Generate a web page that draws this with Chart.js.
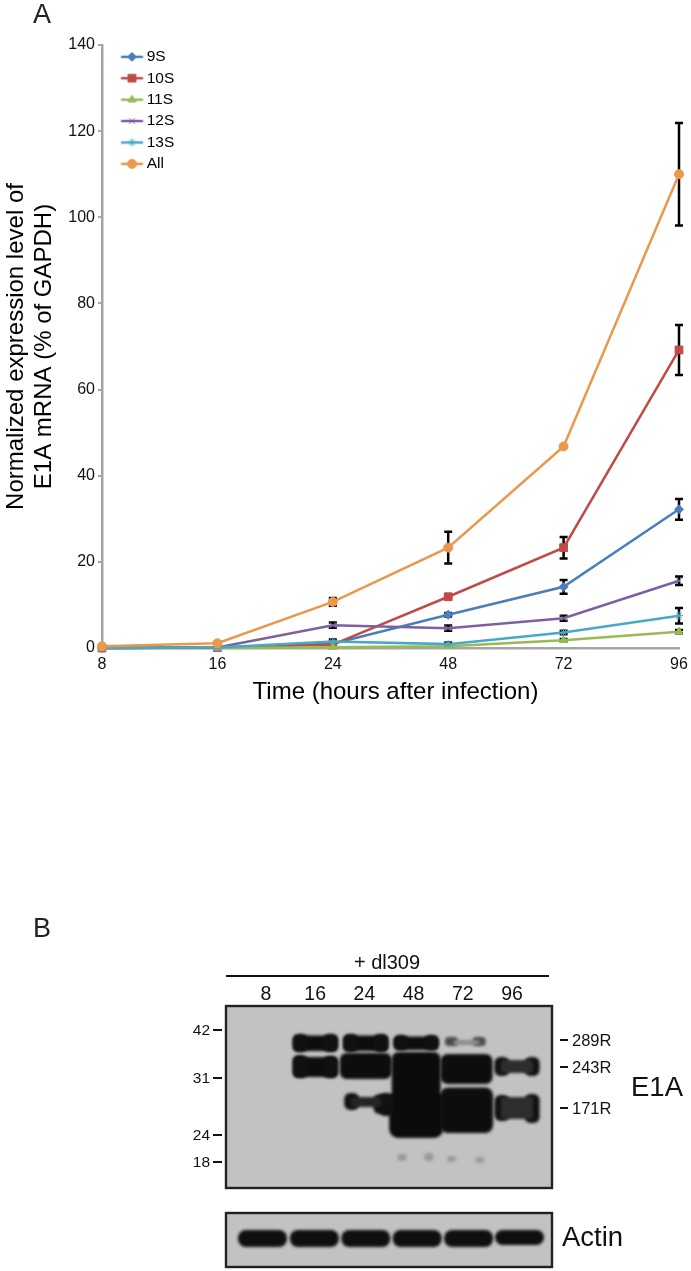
<!DOCTYPE html>
<html><head><meta charset="utf-8">
<style>html,body{margin:0;padding:0;background:#fff;width:691px;height:1271px;overflow:hidden}
canvas{position:absolute;left:0;display:block}</style>
<script src="https://cdn.jsdelivr.net/npm/chart.js@4/dist/chart.umd.js"></script>
</head><body>
<canvas id="lineChart" width="691" height="720" style="top:0"></canvas>
<canvas id="blotChart" width="691" height="361" style="top:910px"></canvas>
<script>
const hours = ['8','16','24','48','72','96'];
const yTicks = [0,20,40,60,80,100,120,140];
const s9  = [0,0.1,1.0,7.7,14.2,32.2];
const s10 = [0,0.1,0.8,11.9,23.3,69.2];
const s11 = [0,0,0.2,0.4,1.8,3.8];
const s12 = [0,0.1,5.3,4.6,6.9,15.6];
const s13 = [0,0.1,1.5,0.9,3.6,7.5];
const sAll= [0.4,1.1,10.7,23.3,46.8,110];
const e9  = [0,0,0.4,0.4,1.6,2.4];
const e10 = [0,0,0.2,0.3,2.5,5.8];
const e11 = [0,0,0,0.2,0.3,0.4];
const e12 = [0,0,0.6,0.6,0.6,1.0];
const e13 = [0,0,0.5,0.4,0.4,1.8];
const eAll= [0.2,0.2,0.9,3.7,0,11.9];
const names = ['9S','10S','11S','12S','13S','All'];
const seriesValues = [s9,s10,s11,s12,s13,sAll];
const seriesErrors = [e9,e10,e11,e12,e13,eAll];
const colors = ['#4a7ebb','#be4b48','#98b954','#7d60a0','#46aac5','#ea984c'];
const markers = ['rectRot','rect','triangle','crossRot','star','circle'];
const radii = [4.5,5.5,4.5,4,4,4.5];
const FONT = '"Liberation Sans", Arial, sans-serif';

function legendIcon(i){
  const c=document.createElement('canvas'); c.width=70; c.height=14;
  const g=c.getContext('2d');
  g.strokeStyle=colors[i]; g.lineWidth=2.5;
  g.beginPath(); g.moveTo(32.6,7); g.lineTo(54.6,7); g.stroke();
  g.fillStyle=colors[i]; g.lineWidth=1;
  Chart.helpers.drawPoint(g,{pointStyle:markers[i],radius:radii[i],rotation:0,borderWidth:1},43.6,7);
  return c;
}
const errorBars = {
  id:'errorBars',
  beforeDatasetsDraw(chart){
    const {ctx,scales:{x,y}}=chart;
    ctx.save(); ctx.strokeStyle='#000'; ctx.lineWidth=2.5;
    seriesErrors.forEach((errs,s)=>errs.forEach((err,i)=>{
      if(!err) return;
      const px=x.getPixelForTick(i), hi=y.getPixelForValue(seriesValues[s][i]+err),
            lo=y.getPixelForValue(seriesValues[s][i]-err);
      ctx.beginPath();
      ctx.moveTo(px,hi);ctx.lineTo(px,lo);
      ctx.moveTo(px-4,hi);ctx.lineTo(px+4,hi);
      ctx.moveTo(px-4,lo);ctx.lineTo(px+4,lo);
      ctx.stroke();
    }));
    ctx.restore();
  }
};
const panelLetterA = {
  id:'panelLetterA',
  afterDraw(chart){
    const c=chart.ctx; c.save(); c.fillStyle='#222'; c.font='27px '+FONT;
    c.textBaseline='middle'; c.fillText('A',33,16); c.restore();
  }
};
new Chart(document.getElementById('lineChart'),{
  type:'line',
  data:{labels:hours,datasets:names.map((n,i)=>({
    label:n,data:seriesValues[i],borderColor:colors[i],backgroundColor:colors[i],
    borderWidth:2.5,pointStyle:markers[i],pointRadius:radii[i],pointBorderWidth:1,
    pointBorderColor:colors[i],pointBackgroundColor:colors[i],tension:0,clip:false,order:6-i
  }))},
  options:{
    responsive:false,animation:false,
    layout:{padding:{left:0,right:12,top:45,bottom:0}},
    plugins:{
      tooltip:{enabled:false},
      legend:{
        position:'chartArea',align:'start',
        title:{display:true,text:' ',font:{size:1},padding:{top:42,bottom:0}},
        labels:{
          usePointStyle:true,pointStyleWidth:31,padding:5.9,color:'#000',
          font:{family:FONT,size:15.5},
          generateLabels:(chart)=>names.map((n,i)=>({
            text:n,pointStyle:legendIcon(i),datasetIndex:i,hidden:false,
            fontColor:'#000',lineWidth:0,strokeStyle:colors[i],fillStyle:colors[i]
          }))
        }
      }
    },
    scales:{
      x:{
        offset:false,
        afterFit(s){
          s.height=72; s.paddingRight=0; s.paddingLeft=0;
          if(!s._shifted){ s._shifted=true; const draw=s.drawTitle;
            s.drawTitle=function(){const c=this.ctx;c.save();c.translate(5,0);draw.call(this);c.restore();}; }
        },
        border:{color:'#a6a6a6',width:2.5},
        grid:{display:false,drawTicks:false},
        ticks:{color:'#111',padding:7,maxRotation:0,autoSkip:false,font:{family:FONT,size:16}},
        title:{display:true,text:'Time (hours after infection)',color:'#000',
          font:{family:FONT,size:24,lineHeight:1.15},padding:{top:0,bottom:14}}
      },
      y:{
        min:0,max:140,
        afterFit(s){s.width=102},
        afterBuildTicks(s){s.ticks=yTicks.map(v=>({value:v}))},
        border:{color:'#a6a6a6',width:2.5},
        grid:{drawOnChartArea:false,color:'#a6a6a6',lineWidth:2,tickLength:4},
        ticks:{color:'#111',padding:3,font:{family:FONT,size:16}},
        title:{display:true,text:['Normalized expression level of','E1A mRNA (% of GAPDH)'],color:'#000',
          font:{family:FONT,size:24,lineHeight:1.15},padding:{top:3,bottom:0}}
      }
    }
  },
  plugins:[errorBars,panelLetterA]
});

/* Western blot: bands are [lane, top, bottom] on a lane/migration scale */
const lanes = hours;
const bandCore = [[1,29.5,45],[2,29.5,45],[3,30.5,44],[1,51,71]];
const bandLobes = [[0.7,28,46],[1.3,28,46],[1.7,28,46],[2.3,28,46],[2.7,29,44],[3.3,29,44],
  [0.7,49,72],[1.3,50,72],[4.7,51,70],[5.3,51,70],[4.7,89,115],[5.3,88,117],[1.72,87,104],[2.3,88,108],[2.42,87,110]];
const bandWide = [[2,47,73],[4,48,78]];
const band72Lower = [[4,81.5,127]];
const band48Upper = [[3,46,90]];
const band48Lower = [[3,84,132]];
const band96Core = [[5,54,67],[5,91,113]];
const band24Lower = [[2,91,101]];
const faint289 = [[3.7,31,40],[4.25,31,40]];
const faint289Core = [[4,34,39]];
const faint18 = [[2.72,148,155],[3.25,147,155],[3.7,150,156],[4.26,151,157]];
const actinBands = [[-0.05,224,241],[0.98,224,241],[2,224,241],[3.02,224,241],[4.04,224,241],[5.05,224,239]];
const mwLabels = ['42','31','24','18'];
const mwPositions = [24,72,129,156];
const isoLabels = ['289R','243R','171R'];
const isoPositions = [34,61,102];
const toPoints = rows=>rows.map(r=>({x:r[0],y:[r[1],r[2]]}));
const bandSet = (rows,w,col,rad)=>({data:toPoints(rows),xAxisID:'lane',yAxisID:'y',barThickness:w,
  backgroundColor:col,borderWidth:0,borderSkipped:false,borderRadius:rad,clip:false,grouped:false,inflateAmount:0});

const blotDecor = {
  id:'blotDecor',
  beforeDatasetsDraw(chart){
    const c=chart.ctx,y=chart.scales.y;
    c.save(); c.fillStyle='#c2c2c2';
    c.fillRect(226,y.getPixelForValue(0),326,y.getPixelForValue(182)-y.getPixelForValue(0));
    c.fillRect(226,y.getPixelForValue(207),326,y.getPixelForValue(261)-y.getPixelForValue(207));
    c.restore();
    c.save(); c.filter='blur(1.8px)';
  },
  afterDatasetsDraw(chart){
    const c=chart.ctx,y=chart.scales.y;
    c.restore();
    c.save();
    c.strokeStyle='#222'; c.lineWidth=2.4;
    c.strokeRect(226,y.getPixelForValue(0),326,y.getPixelForValue(182)-y.getPixelForValue(0));
    c.strokeRect(226,y.getPixelForValue(207),326,y.getPixelForValue(261)-y.getPixelForValue(207));
    c.strokeStyle='#111'; c.lineWidth=1.8;
    c.beginPath(); c.moveTo(226,66); c.lineTo(549,66); c.stroke();
    c.fillStyle='#222'; c.textBaseline='middle';
    c.font='27px '+FONT; c.fillText('B',33,20);
    c.fillStyle='#111';
    c.font='20px '+FONT; c.textAlign='center'; c.fillText('+ dl309',387,53);
    c.font='15.5px '+FONT; c.textAlign='right';
    mwLabels.forEach((t,i)=>{const p=y.getPixelForValue(mwPositions[i]);
      c.fillText(t,210,p+1);
      c.beginPath();c.moveTo(213,p);c.lineTo(222,p);c.lineWidth=2;c.stroke();});
    c.font='16.5px '+FONT; c.textAlign='left';
    isoLabels.forEach((t,i)=>{const p=y.getPixelForValue(isoPositions[i]);
      c.fillText(t,572,p+1);
      c.beginPath();c.moveTo(560,p);c.lineTo(568,p);c.lineWidth=2;c.stroke();});
    c.font='27.5px '+FONT;
    c.fillText('E1A',631,y.getPixelForValue(82));
    c.fillText('Actin',562,y.getPixelForValue(232));
    c.restore();
  }
};
new Chart(document.getElementById('blotChart'),{
  type:'bar',
  data:{labels:lanes,datasets:[
    bandSet(faint289Core,26,'#8c8c8c',3),
    bandSet(faint289,13,'#4a4a4a',4),
    bandSet(faint18,9,'#9a9a9a',3),
    bandSet(band96Core,32,'#2e2e2e',3),
    bandSet(band24Lower,30,'#252525',3),
    bandSet(bandLobes,15,'#111',6),
    bandSet(bandCore,44,'#0d0d0d',4),
    bandSet(bandWide,52,'#0d0d0d',7),
    bandSet(band72Lower,53,'#0d0d0d',8),
    bandSet(band48Lower,54,'#0b0b0b',9),
    bandSet(band48Upper,49,'#0b0b0b',7),
    bandSet(actinBands,49,'#0f0f0f',8)
  ]},
  options:{
    responsive:false,animation:false,
    layout:{padding:{left:241.4,right:154.4,top:70,bottom:4}},
    plugins:{legend:{display:false},tooltip:{enabled:false}},
    scales:{
      x:{position:'top',type:'category',labels:lanes,offset:true,
        afterFit(s){s.height=26},
        grid:{display:false,drawTicks:false},border:{display:false},
        ticks:{color:'#111',padding:0,maxRotation:0,autoSkip:false,font:{family:FONT,size:19.5}}},
      lane:{type:'linear',display:false,offset:false,min:-0.468,max:5.389},
      y:{type:'linear',display:false,min:0,max:261,reverse:true}
    }
  },
  plugins:[blotDecor]
});
</script>
</body></html>
